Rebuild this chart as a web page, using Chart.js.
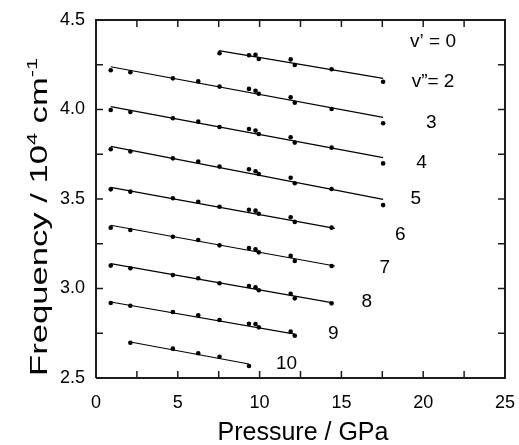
<!DOCTYPE html>
<html>
<head>
<meta charset="utf-8">
<script src="https://cdn.jsdelivr.net/npm/chart.js@4"></script>
<style>
  html, body { margin: 0; padding: 0; background: #fff; }
  #wrap { width: 519px; height: 445px; }
</style>
</head>
<body>
<div id="wrap"><canvas id="chart" width="519" height="445"></canvas></div>
<script>
// pressures (GPa) where points were measured
const pressure = [0.9, 2.1, 4.7, 6.25, 7.55, 9.35, 9.75, 9.95, 11.9, 12.15, 14.4, 17.55];

// frequencies (10^4 cm-1), one array per v" level, null = no point
const v2 = [null, null, null, null, 4.314, 4.303, 4.306, 4.282, 4.28, 4.249, 4.225, 4.155];
const v3 = [4.219, 4.208, 4.174, 4.157, 4.128, 4.115, 4.105, 4.088, 4.068, 4.038, 4.003, 3.923];
const v4 = [3.997, 3.986, 3.951, 3.932, 3.902, 3.891, 3.882, 3.863, 3.845, 3.815, 3.787, 3.699];
const v5 = [3.778, 3.765, 3.727, 3.709, 3.681, 3.666, 3.655, 3.64, 3.619, 3.588, 3.556, 3.466];
const v6 = [3.554, 3.541, 3.504, 3.485, 3.457, 3.44, 3.435, 3.418, 3.398, 3.372, 3.34, null];
const v7 = [3.34, 3.327, 3.289, 3.271, 3.241, 3.226, 3.219, 3.202, 3.182, 3.154, 3.126, null];
const v8 = [3.128, 3.113, 3.075, 3.057, 3.029, 3.014, 3.007, 2.99, 2.971, 2.945, 2.917, null];
const v9 = [2.919, 2.904, 2.869, 2.85, 2.824, 2.803, 2.802, 2.783, 2.759, 2.736, null, null];
const v10 = [null, 2.697, 2.664, 2.638, 2.619, 2.567, null, null, null, null, null, null];
const levels = [v2, v3, v4, v5, v6, v7, v8, v9, v10];

// fitted straight lines (start / end of each)
const fitX0 = [7.5, 0.9, 0.9, 0.9, 0.9, 0.9, 0.9, 0.9, 2.1];
const fitY0 = [4.329, 4.239, 4.016, 3.794, 3.565, 3.353, 3.139, 2.925, 2.701];
const fitX1 = [17.55, 17.55, 17.55, 17.55, 14.6, 14.6, 14.4, 12.15, 9.35];
const fitY1 = [4.174, 3.956, 3.731, 3.498, 3.336, 3.126, 2.921, 2.745, 2.578];

// level labels
const labelText = ["v\u2019 = 0", "v\u201D= 2", "3", "4", "5", "6", "7", "8", "9", "10"];
const labelX = [20.6, 20.6, 20.5, 19.9, 19.55, 18.6, 17.65, 16.55, 14.5, 11.65];
const labelY = [4.377, 4.154, 3.925, 3.701, 3.5, 3.299, 3.115, 2.925, 2.746, 2.578];

// axis ranges, labelled ticks and tick marks
const xMin = 0, xMax = 25, yMin = 2.5, yMax = 4.5;
const xTicks = [0, 5, 10, 15, 20, 25];
const yTicks = [2.5, 3.0, 3.5, 4.0, 4.5];
const xMarks = [2.5, 5, 7.5, 10, 12.5, 15, 17.5, 20, 22.5];
const yMarks = [2.75, 3.0, 3.25, 3.5, 3.75, 4.0, 4.25];

const FONT = "'Liberation Sans', Arial, sans-serif";
const INK = "#1c1c1c";

const datasets = [];
levels.forEach((vals, i) => {
  datasets.push({
    data: pressure.map((p, k) => (vals[k] === null ? null : { x: p, y: vals[k] })).filter((d) => d),
    showLine: false,
    pointRadius: 2.3,
    pointBackgroundColor: "#000",
    pointBorderWidth: 0,
  });
  datasets.push({
    data: [
      { x: fitX0[i], y: fitY0[i] },
      { x: fitX1[i], y: fitY1[i] },
    ],
    showLine: true,
    borderColor: "#000",
    borderWidth: 1.1,
    pointRadius: 0,
  });
});

// plot frame
datasets.push({
  data: [
    { x: xMin, y: yMin }, { x: xMax, y: yMin }, { x: xMax, y: yMax },
    { x: xMin, y: yMax }, { x: xMin, y: yMin },
  ],
  showLine: true,
  borderColor: INK,
  borderWidth: 2,
  pointRadius: 0,
  clip: false,
});

// short inward tick marks on all four sides (about 7 px long)
const tickY = ((yMax - yMin) * 7) / 358;
const tickX = ((xMax - xMin) * 7) / 409;
const tickMark = (a, b) => ({
  data: [a, b],
  showLine: true,
  borderColor: INK,
  borderWidth: 1.5,
  pointRadius: 0,
  clip: false,
});
xMarks.forEach((v) => {
  datasets.push(tickMark({ x: v, y: yMin }, { x: v, y: yMin + tickY }));
  datasets.push(tickMark({ x: v, y: yMax }, { x: v, y: yMax - tickY }));
});
yMarks.forEach((v) => {
  datasets.push(tickMark({ x: xMin, y: v }, { x: xMin + tickX, y: v }));
  datasets.push(tickMark({ x: xMax, y: v }, { x: xMax - tickX, y: v }));
});

// titles and level labels
const decorations = {
  id: "decorations",
  afterDraw(chart) {
    const ctx = chart.ctx;
    const xs = chart.scales.x;
    const ys = chart.scales.y;
    ctx.save();
    ctx.fillStyle = "#000";

    // x title
    ctx.font = "25px " + FONT;
    ctx.textAlign = "center";
    ctx.textBaseline = "alphabetic";
    ctx.fillText("Pressure / GPa", 303, 440);

    // y title with superscripts, stretched along its length
    const big = "24px " + FONT;
    const small = "15px " + FONT;
    const parts = [
      ["Frequency / 10", big, 0],
      ["4", small, -10],
      [" cm", big, 0],
      ["-1", small, -10],
    ];
    let total = 0;
    parts.forEach((p) => { ctx.font = p[1]; total += ctx.measureText(p[0]).width; });
    const want = 318;
    ctx.translate(47, 217);
    ctx.rotate(-Math.PI / 2);
    ctx.scale(want / total, 1);
    ctx.textAlign = "left";
    let cx = -total / 2;
    parts.forEach((p) => {
      ctx.font = p[1];
      ctx.fillText(p[0], cx, p[2]);
      cx += ctx.measureText(p[0]).width;
    });
    ctx.setTransform(1, 0, 0, 1, 0, 0);

    ctx.font = "19px " + FONT;
    ctx.textAlign = "center";
    ctx.textBaseline = "middle";
    labelText.forEach((t, i) => {
      ctx.fillText(t, xs.getPixelForValue(labelX[i]), ys.getPixelForValue(labelY[i]));
    });
    ctx.restore();
  },
};

new Chart(document.getElementById("chart"), {
  type: "scatter",
  data: { datasets },
  options: {
    responsive: false,
    animation: false,
    events: [],
    layout: { padding: { top: 20, right: 14, left: 0, bottom: 0 } },
    plugins: { legend: { display: false }, tooltip: { enabled: false } },
    scales: {
      x: {
        type: "linear",
        min: xMin,
        max: xMax,
        afterFit: (s) => { s.height = 67; s.paddingLeft = 0; s.paddingRight = 0; },
        afterBuildTicks: (s) => { s.ticks = xTicks.map((v) => ({ value: v })); },
        grid: { display: false, drawTicks: false },
        border: { display: false },
        ticks: { color: "#000", padding: 14, maxRotation: 0, font: { size: 18, family: FONT } },
      },
      y: {
        type: "linear",
        min: yMin,
        max: yMax,
        afterFit: (s) => { s.width = 96; s.paddingTop = 0; s.paddingBottom = 0; },
        afterBuildTicks: (s) => { s.ticks = yTicks.map((v) => ({ value: v })); },
        grid: { display: false, drawTicks: false },
        border: { display: false },
        ticks: {
          color: "#000",
          padding: 11,
          font: { size: 18, family: FONT },
          callback: (v) => v.toFixed(1),
        },
      },
    },
  },
  plugins: [decorations],
});
</script>
</body>
</html>
